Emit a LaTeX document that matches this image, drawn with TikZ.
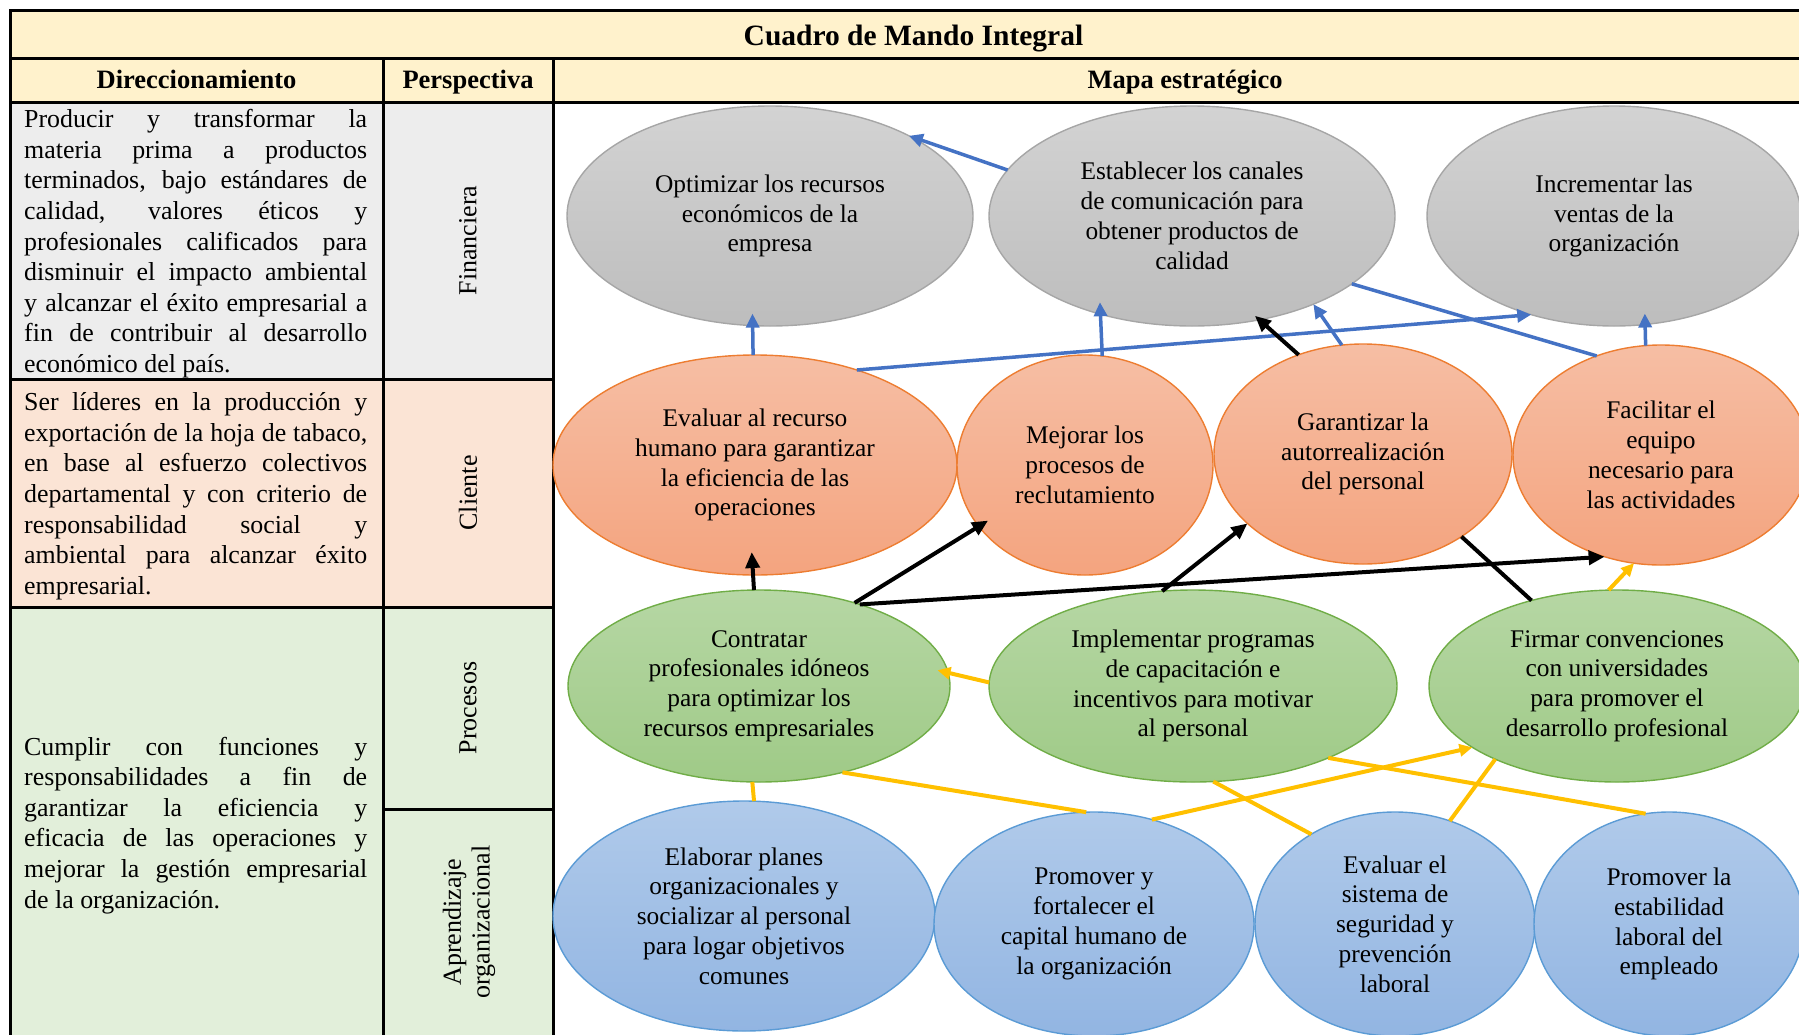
\documentclass[tikz,border=0pt]{standalone}
\usepackage{fontspec}
\setmainfont{Liberation Serif}
\usetikzlibrary{shapes.geometric,arrows.meta}

% table colours
\definecolor{hdrfill}{HTML}{FFF2CC}
\definecolor{finfill}{HTML}{EDEDED}
\definecolor{clifill}{HTML}{FBE4D5}
\definecolor{profill}{HTML}{E2EFDA}
% oval colours
\definecolor{graytop}{HTML}{D3D3D3}
\definecolor{graybot}{HTML}{BDBDBD}
\definecolor{grayline}{HTML}{A6A6A6}
\definecolor{orgtop}{HTML}{F6BEA4}
\definecolor{orgbot}{HTML}{F4A47F}
\definecolor{orgline}{HTML}{ED7D31}
\definecolor{grntop}{HTML}{B6D7A4}
\definecolor{grnbot}{HTML}{9FCA87}
\definecolor{grnline}{HTML}{70AD47}
\definecolor{blutop}{HTML}{B0CAEA}
\definecolor{blubot}{HTML}{92B5E2}
\definecolor{bluline}{HTML}{5B9BD5}
% connector colours
\definecolor{linkblue}{HTML}{4472C4}
\definecolor{linkgold}{HTML}{FFC000}

\newcommand\celltext{\fontsize{25.9}{30.6}\selectfont}
\newcommand\ovaltext{\fontsize{25.4}{29.8}\selectfont}
\newcommand\headtext{\fontsize{26.5}{30}\selectfont\bfseries}
\newcommand\titletext{\fontsize{29.5}{33}\selectfont\bfseries}

\hyphenpenalty=10000
\exhyphenpenalty=10000
\hbadness=10000

\begin{document}
\begin{tikzpicture}[x=1pt,y=-1pt,
  cellpar/.style={anchor=base west, text width=343pt, align=justify,
    inner sep=0pt, font=\celltext},
  sidelabel/.style={rotate=90, align=center, inner sep=0pt,
    font=\fontsize{26}{28.7}\selectfont},
  oval/.style={ellipse, inner sep=0pt, outer sep=0pt, line width=1.4pt,
    align=center, font=\ovaltext},
  grayoval/.style={oval, draw=grayline, top color=graytop, bottom color=graybot},
  orgoval/.style={oval, draw=orgline, top color=orgtop, bottom color=orgbot},
  grnoval/.style={oval, draw=grnline, top color=grntop, bottom color=grnbot},
  bluoval/.style={oval, draw=bluline, top color=blutop, bottom color=blubot},
  bluelink/.style={draw=linkblue, line width=3.5pt},
  blacklink/.style={draw=black, line width=4pt},
  goldlink/.style={draw=linkgold, line width=4pt},
  bluehead/.style={-{Triangle[length=14pt,width=13pt]}},
  blackhead/.style={-{Triangle[length=16pt,width=14pt]}},
  goldhead/.style={-{Triangle[length=13pt,width=12pt]}}
]
\useasboundingbox (0,0) rectangle (1799,1034);
\clip (0,0) rectangle (1799,1034);

% ---- cell backgrounds ----
\fill[hdrfill] (10,10) rectangle (1817,102);
\fill[finfill] (10,102) rectangle (553,379);
\fill[clifill] (10,379) rectangle (553,607);
\fill[profill] (10,607) rectangle (553,1037);

% ---- table rules ----
\begin{scope}[line width=3pt]
  \draw (10,10) rectangle (1817,1037);
  \draw (10,58) -- (1817,58);
  \draw (10,102) -- (1817,102);
  \draw (383,58) -- (383,1037);
  \draw (553,58) -- (553,1037);
  \draw (10,379) -- (553,379);
  \draw (10,607) -- (553,607);
  \draw (383,809) -- (553,809);
\end{scope}

% ---- headings ----
\node[anchor=base, inner sep=0pt, font=\titletext] (title) at (913.5,45) {Cuadro de Mando Integral};
\node[anchor=base, inner sep=0pt, font=\headtext] (hdir) at (196.5,88) {Direccionamiento};
\node[anchor=base, inner sep=0pt, font=\headtext] (hper) at (468,88) {Perspectiva};
\node[anchor=base, inner sep=0pt, font=\headtext] (hmap) at (1185,88) {Mapa estratégico};

% ---- direction statements ----
\node[cellpar] (dfin) at (24,127.7) {Producir y transformar la\linebreak
  materia prima a productos\linebreak
  terminados, bajo estándares de\linebreak
  calidad, valores éticos y\linebreak
  profesionales calificados para\linebreak
  disminuir el impacto ambiental\linebreak
  y alcanzar el éxito empresarial a\linebreak
  fin de contribuir al desarrollo\linebreak
  económico del país.};
\node[cellpar] (dcli) at (24,410.6) {Ser líderes en la producción y\linebreak
  exportación de la hoja de tabaco,\linebreak
  en base al esfuerzo colectivos\linebreak
  departamental y con criterio de\linebreak
  responsabilidad social y\linebreak
  ambiental para alcanzar éxito\linebreak
  empresarial.};
\node[cellpar] (dpro) at (24,755) {Cumplir con funciones y\linebreak
  responsabilidades a fin de\linebreak
  garantizar la eficiencia y\linebreak
  eficacia de las operaciones y\linebreak
  mejorar la gestión empresarial\linebreak
  de la organización.};

% ---- perspectives ----
\node[sidelabel] (pfin) at (468,240.5) {Financiera};
\node[sidelabel] (pcli) at (468,493) {Cliente};
\node[sidelabel] (ppro) at (468,708) {Procesos};
\node[sidelabel] (papr) at (469,922) {Aprendizaje\\organizacional};

% ---- strategy map: financial ----
\node[grayoval, minimum width=406pt, minimum height=220pt] (E1) at (770,216)
  {Optimizar los recursos\\económicos de la\\empresa};
\node[grayoval, minimum width=406pt, minimum height=220pt] (E2) at (1192,216)
  {Establecer los canales\\de comunicación para\\obtener productos de\\calidad};
\node[grayoval, minimum width=374pt, minimum height=220pt] (E3) at (1614,216)
  {Incrementar las\\ventas de la\\organización};

% ---- strategy map: customer ----
\node[orgoval, minimum width=404pt, minimum height=220pt] (O1) at (755,465)
  {Evaluar al recurso\\humano para garantizar\\la eficiencia de las\\operaciones};
\node[orgoval, minimum width=256pt, minimum height=220pt] (O2) at (1085,465)
  {Mejorar los\\procesos de\\reclutamiento};
\node[orgoval, minimum width=298pt, minimum height=220pt] (O3) at (1363,454)
  {Garantizar la\\autorrealización\\del personal};
\node[orgoval, minimum width=296pt, minimum height=220pt] (O4) at (1661,455)
  {Facilitar el\\equipo\\necesario para\\las actividades};

% ---- strategy map: processes ----
\node[grnoval, minimum width=382pt, minimum height=192pt] (G1) at (759,686)
  {Contratar\\profesionales idóneos\\para optimizar los\\recursos empresariales};
\node[grnoval, minimum width=408pt, minimum height=192pt] (G2) at (1193,686)
  {Implementar programas\\de capacitación e\\incentivos para motivar\\al personal};
\node[grnoval, minimum width=376pt, minimum height=192pt] (G3) at (1617,686)
  {Firmar convenciones\\con universidades\\para promover el\\desarrollo profesional};

% ---- strategy map: learning ----
\node[bluoval, minimum width=382pt, minimum height=230pt] (B1) at (744,916)
  {Elaborar planes\\organizacionales y\\socializar al personal\\para logar objetivos\\comunes};
\node[bluoval, minimum width=320pt, minimum height=224pt] (B2) at (1094,924)
  {Promover y\\fortalecer el\\capital humano de\\la organización};
\node[bluoval, minimum width=280pt, minimum height=224pt] (B3) at (1395,924)
  {Evaluar el\\sistema de\\seguridad y\\prevención\\laboral};
\node[bluoval, minimum width=270pt, minimum height=224pt] (B4) at (1669,924)
  {Promover la\\estabilidad\\laboral del\\empleado};

% ---- blue links (customer -> financial) ----
\draw[bluelink, bluehead] (E2.166.1) -- (E1.30.5);
\draw[bluelink, bluehead, shorten >=-12pt] (O1.91) -- (E1.261.2);
\draw[bluelink, bluehead] (O1.43.5) -- (E3.230.5);
\draw[bluelink, bluehead, shorten >=-12pt] (O2.81.6) -- (E2.227.2);
\draw[bluelink, bluehead] (O3.101.3) -- (E2.324.6);
\draw[bluelink] (E2.337.2) -- (O4.123.8);
\draw[bluelink, bluehead, shorten >=-11pt] (O4.98.3) -- (E3.286);

% ---- black links (processes -> customer) ----
\draw[blacklink, blackhead, shorten >=-23pt] (G1.93.6) -- (O1.269.4);
\draw[blacklink, blackhead, shorten >=-11pt] (G1.41.2) -- (O2.210.7);
\draw[blacklink, blackhead] (G1.39.6) -- (O4.241.2);
\draw[blacklink, blackhead] (G2.108.4) -- (O3.211.6);
\draw[blacklink, blackhead, shorten >=-6pt] (O3.123.3) -- (E2.303.8);
\draw[blacklink] (O3.320) -- (G3.135);

% ---- gold links (learning -> processes) ----
\draw[goldlink, goldhead, shorten >=-11pt] (G2.179.2) -- (G1.4.5);
\draw[goldlink] (G1.266.4) -- (B1.85.5);
\draw[goldlink] (G1.314.7) -- (B2.94);
\draw[goldlink, goldhead] (B2.61.7) -- (G3.203.4);
\draw[goldlink] (G2.282.9) -- (B3.133.7);
\draw[goldlink] (G2.332.1) -- (B4.102);
\draw[goldlink] (B3.62.5) -- (G3.211.4);
\draw[goldlink, goldhead] (G3.95.3) -- (O4.256);
\end{tikzpicture}
\end{document}
